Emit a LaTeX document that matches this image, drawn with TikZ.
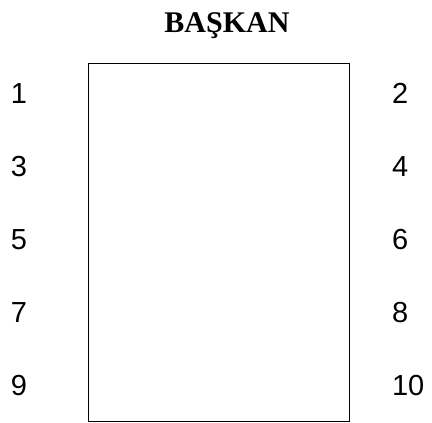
\documentclass[tikz,border=0pt]{standalone}
\usepackage{fontspec}
\setmainfont{Liberation Serif}
\newfontfamily\numfont{Liberation Sans}
\usetikzlibrary{positioning}

\begin{document}
\begin{tikzpicture}[x=1pt, y=-1pt, every node/.style={inner sep=0pt, outer sep=0pt},
		seatno/.style={font=\numfont\fontsize{29}{29}\selectfont, anchor=base west}]
	\useasboundingbox (0,0) rectangle (432,423);
	\node[font=\bfseries\fontsize{30}{30}\selectfont, anchor=base] (title) at (227,32) {BAŞKAN};
	\coordinate (tl) at (88.5,63.5); \coordinate (br) at (349,421.5);
	\draw[line width=1pt] (tl) rectangle (br);
	\foreach \i in {0,...,4} {
		\pgfmathtruncatemacro{\l}{2*\i+1}
		\pgfmathtruncatemacro{\r}{2*\i+2}
		\node[seatno] (n\l) at (11,{103+73*\i}) {\l};
		\node[seatno] (n\r) at (392,{103+73*\i}) {\r};
	}
\end{tikzpicture}
\end{document}
